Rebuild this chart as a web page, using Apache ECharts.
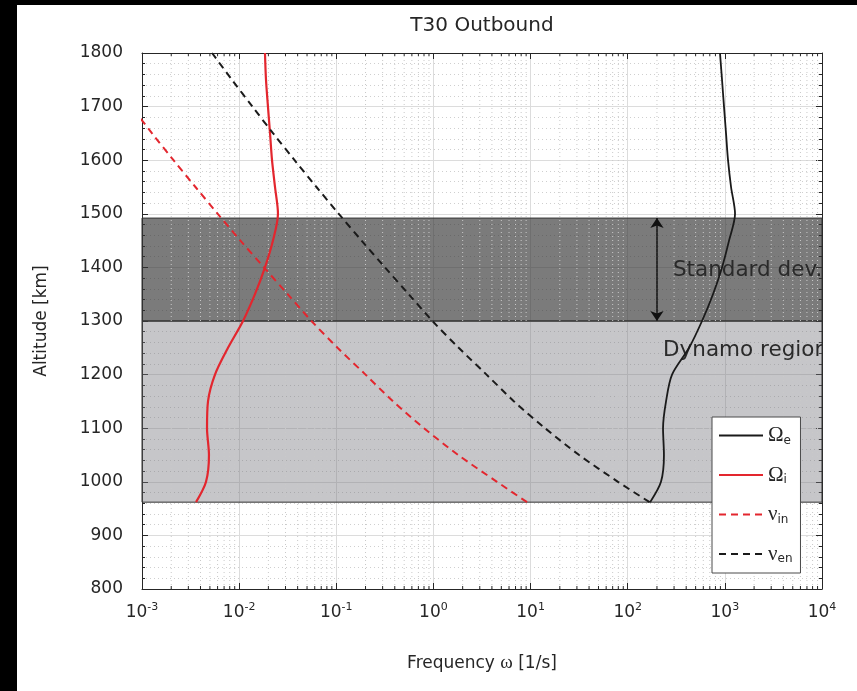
<!DOCTYPE html>
<html>
<head>
<meta charset="utf-8">
<script src="https://cdn.jsdelivr.net/npm/echarts@6/dist/echarts.min.js"></script>
<style>
  html, body { margin: 0; padding: 0; background: #000; width: 857px; height: 691px; overflow: hidden; }
  #chart { position: absolute; left: 17px; top: 5px; width: 840px; height: 686px; background: #fff; }
</style>
</head>
<body>
<div id="chart"></div>
<script>
// Altitude samples [km], shared by all four profiles
const altitudes = [962, 1000, 1050, 1100, 1150, 1200, 1250, 1300, 1350, 1400, 1450, 1500, 1550, 1600, 1650, 1700, 1750, 1800];

// Electron gyrofrequency Omega_e [1/s]
const omegaE = [170, 220, 236, 231, 248, 286, 428, 582, 755, 935, 1104, 1273, 1158, 1078, 1028, 980, 935, 891];
// Ion gyrofrequency Omega_i [1/s]
const omegaI = [0.0036, 0.00456, 0.00489, 0.00467, 0.00478, 0.00564, 0.00768, 0.01096, 0.01455, 0.01845, 0.0223, 0.0251, 0.0234, 0.0218, 0.0208, 0.0198, 0.0189, 0.01845];
// Ion-neutral collision frequency nu_in [1/s]
const nuIn = [9.2, 4.51, 1.80, 0.80, 0.384, 0.200, 0.103, 0.0555, 0.0316, 0.0180, 0.0103, 0.00602, 0.00355, 0.00211, 0.00127, 0.00078, null, null];
// Electron-neutral collision frequency nu_en [1/s]
const nuEn = [168, 79.4, 31.6, 14.1, 6.76, 3.52, 1.82, 0.977, 0.557, 0.317, 0.182, 0.106, 0.0625, 0.0372, 0.0224, 0.0137, 0.00843, 0.00526];

// Shaded altitude ranges [km]
const dynamoBottom = 962;
const stdDevLow = 1300;
const stdDevHigh = 1492;

// Axis ticks
const yTicks = [800, 900, 1000, 1100, 1200, 1300, 1400, 1500, 1600, 1700, 1800];
const xTickExponents = ['-3', '-2', '-1', '0', '1', '2', '3', '4'];

// Annotation texts and their anchor points [frequency, altitude]
const annotationTexts = ['Standard dev.', 'Dynamo region'];
const annotationPoints = [[292, 1395], [231, 1246]];
const arrowFrequency = 200;

const FONT = 'DejaVu Sans';
const SERIF = 'Liberation Serif';
const TEXT = '#262626';

const xMin = 1e-3, xMax = 1e4;
const yMin = yTicks[0], yMax = yTicks[yTicks.length - 1];

// minor log positions 2..9 x 10^k for the dotted grid and small ticks
const minorX = [];
for (let k = -3; k < 4; k++) {
  for (let m = 2; m <= 9; m++) minorX.push(m * Math.pow(10, k));
}

const pairs = vals => altitudes.map((a, i) => vals[i] == null ? null : [vals[i], a]).filter(p => p);

const legendLabels = {
  'Ωe': '{g|Ω}{sub|e}',
  'Ωi': '{g|Ω}{sub|i}',
  'νin': '{g|ν}{sub|in}',
  'νen': '{g|ν}{sub|en}'
};

const chart = echarts.init(document.getElementById('chart'), null, { renderer: 'canvas' });

const option = {
  animation: false,
  backgroundColor: '#fff',
  graphic: [{
    type: 'text',
    x: 465, y: 11,
    style: { text: 'T30 Outbound', fill: TEXT, font: '20px "' + FONT + '"', textAlign: 'center' }
  }],
  grid: { left: 125, top: 48, width: 680, height: 536, containLabel: false },
  xAxis: [{
    type: 'log', logBase: 10, min: xMin, max: xMax, splitNumber: 7,
    position: 'bottom',
    name: '{a|Frequency }{w|ω}{a| [1/s]}',
    nameLocation: 'middle', nameGap: 65,
    nameTextStyle: {
      rich: {
        a: { fontFamily: FONT, fontSize: 17, color: TEXT },
        w: { fontFamily: SERIF, fontSize: 19, color: TEXT }
      }
    },
    axisLine: { show: true, lineStyle: { color: TEXT, width: 1 } },
    axisTick: { show: true, inside: true, length: 6, lineStyle: { color: TEXT } },
    axisLabel: {
      margin: 13,
      formatter: v => {
        const e = Math.round(Math.log10(v));
        return '{b|10}{s|' + xTickExponents[e + 3] + '}';
      },
      rich: {
        b: { fontFamily: FONT, fontSize: 17, color: TEXT },
        s: { fontFamily: FONT, fontSize: 11, color: TEXT, padding: [0, 0, 11, 0] }
      }
    },
    splitLine: { show: true, lineStyle: { color: '#dcdcdc', width: 1 } }
  }, {
    type: 'log', logBase: 10, min: xMin, max: xMax, splitNumber: 7,
    position: 'top',
    axisLine: { show: true, lineStyle: { color: TEXT, width: 1 } },
    axisTick: { show: true, inside: true, length: 6, lineStyle: { color: TEXT } },
    axisLabel: { show: false },
    splitLine: { show: false }
  }],
  yAxis: [{
    type: 'value', min: yMin, max: yMax, interval: 100,
    position: 'left',
    name: 'Altitude [km]', nameLocation: 'middle', nameGap: 92, nameRotate: 90,
    nameTextStyle: { fontFamily: FONT, fontSize: 17, color: TEXT },
    axisLine: { show: true, lineStyle: { color: TEXT, width: 1 } },
    axisTick: { show: true, inside: true, length: 6, lineStyle: { color: TEXT } },
    minorTick: { show: true, splitNumber: 5, length: 3, lineStyle: { color: TEXT } },
    axisLabel: { margin: 19, fontFamily: FONT, fontSize: 17, color: TEXT, formatter: v => String(v) },
    splitLine: { show: true, lineStyle: { color: '#dcdcdc', width: 1 } },
    minorSplitLine: { show: true, lineStyle: { color: '#cfcfcf', width: 1, type: [1, 3] } }
  }, {
    type: 'value', min: yMin, max: yMax, interval: 100,
    position: 'right',
    axisLine: { show: true, lineStyle: { color: TEXT, width: 1 } },
    axisTick: { show: true, inside: true, length: 6, lineStyle: { color: TEXT } },
    minorTick: { show: true, splitNumber: 5, length: 3, lineStyle: { color: TEXT } },
    axisLabel: { show: false },
    splitLine: { show: false }
  }],
  legend: {
    orient: 'vertical',
    left: 695, top: 412,
    backgroundColor: '#fff',
    borderColor: '#4a4a4a', borderWidth: 1, borderRadius: 0,
    padding: [8, 8, 8, 6],
    itemWidth: 44, itemHeight: 14, itemGap: 18,
    itemStyle: { opacity: 0 },
    data: ['Ωe', 'Ωi', 'νin', 'νen'],
    formatter: name => legendLabels[name],
    textStyle: {
      rich: {
        g: { fontFamily: SERIF, fontSize: 21, color: TEXT, lineHeight: 24 },
        sub: { fontFamily: FONT, fontSize: 12, color: TEXT, padding: [10, 0, 0, 0] }
      }
    }
  },
  series: [
    {
      // dotted minor grid at 2..9 x 10^k and the small ticks on the bottom and top frame
      type: 'custom', name: 'minor-grid', silent: true, z: 1,
      xAxisIndex: 0, yAxisIndex: 0,
      data: minorX.map(v => [v, yMin]),
      renderItem: (params, api) => {
        const v = api.value(0);
        const b = api.coord([v, yMin]);
        const t = api.coord([v, yMax]);
        return {
          type: 'group',
          children: [
            { type: 'line', shape: { x1: b[0], y1: b[1], x2: t[0], y2: t[1] },
              style: { stroke: '#c9c9c9', lineWidth: 1, lineDash: [1, 3] } },
            { type: 'line', shape: { x1: b[0], y1: b[1], x2: b[0], y2: b[1] - 3 },
              style: { stroke: TEXT, lineWidth: 1 } },
            { type: 'line', shape: { x1: t[0], y1: t[1], x2: t[0], y2: t[1] + 3 },
              style: { stroke: TEXT, lineWidth: 1 } }
          ]
        };
      }
    },
    {
      // shaded dynamo region and standard deviation band with the arrow
      type: 'line', name: 'bands', data: [], z: 2, silent: true,
      markArea: {
        silent: true,
        itemStyle: { borderColor: '#333', borderWidth: 1 },
        data: [
          [{ yAxis: dynamoBottom, itemStyle: { color: 'rgba(118,120,126,0.42)' } }, { yAxis: stdDevLow }],
          [{ yAxis: stdDevLow, itemStyle: { color: 'rgba(52,52,52,0.65)' } }, { yAxis: stdDevHigh }]
        ]
      },
      markLine: {
        silent: true,
        symbol: ['arrow', 'arrow'], symbolSize: 10,
        label: { show: false },
        lineStyle: { color: '#111', width: 1.5, type: 'solid' },
        data: [[{ coord: [arrowFrequency, stdDevHigh] }, { coord: [arrowFrequency, stdDevLow] }]]
      }
    },
    {
      type: 'custom', name: 'annotations', silent: true, z: 3, clip: true,
      xAxisIndex: 0, yAxisIndex: 0,
      data: annotationPoints,
      renderItem: (params, api) => {
        const p = api.coord([api.value(0), api.value(1)]);
        return {
          type: 'text', x: p[0], y: p[1],
          style: {
            text: annotationTexts[params.dataIndex], fill: '#2a2a2a',
            font: '21.5px "' + FONT + '"', textAlign: 'left', textVerticalAlign: 'middle'
          }
        };
      }
    },
    {
      name: 'Ωe', type: 'line', data: pairs(omegaE), z: 5,
      symbol: 'none', smooth: 0.3,
      lineStyle: { color: '#1a1a1a', width: 1.8 }, itemStyle: { color: '#1a1a1a' }
    },
    {
      name: 'Ωi', type: 'line', data: pairs(omegaI), z: 5,
      symbol: 'none', smooth: 0.3,
      lineStyle: { color: '#e3262e', width: 2.2 }, itemStyle: { color: '#e3262e' }
    },
    {
      name: 'νin', type: 'line', data: pairs(nuIn), z: 5,
      symbol: 'none', smooth: 0.3, clip: true,
      lineStyle: { color: '#e3262e', width: 2, type: [7, 5] }, itemStyle: { color: '#e3262e' }
    },
    {
      name: 'νen', type: 'line', data: pairs(nuEn), z: 5,
      symbol: 'none', smooth: 0.3,
      lineStyle: { color: '#1a1a1a', width: 2, type: [7, 5] }, itemStyle: { color: '#1a1a1a' }
    }
  ]
};

chart.setOption(option);
</script>
</body>
</html>
